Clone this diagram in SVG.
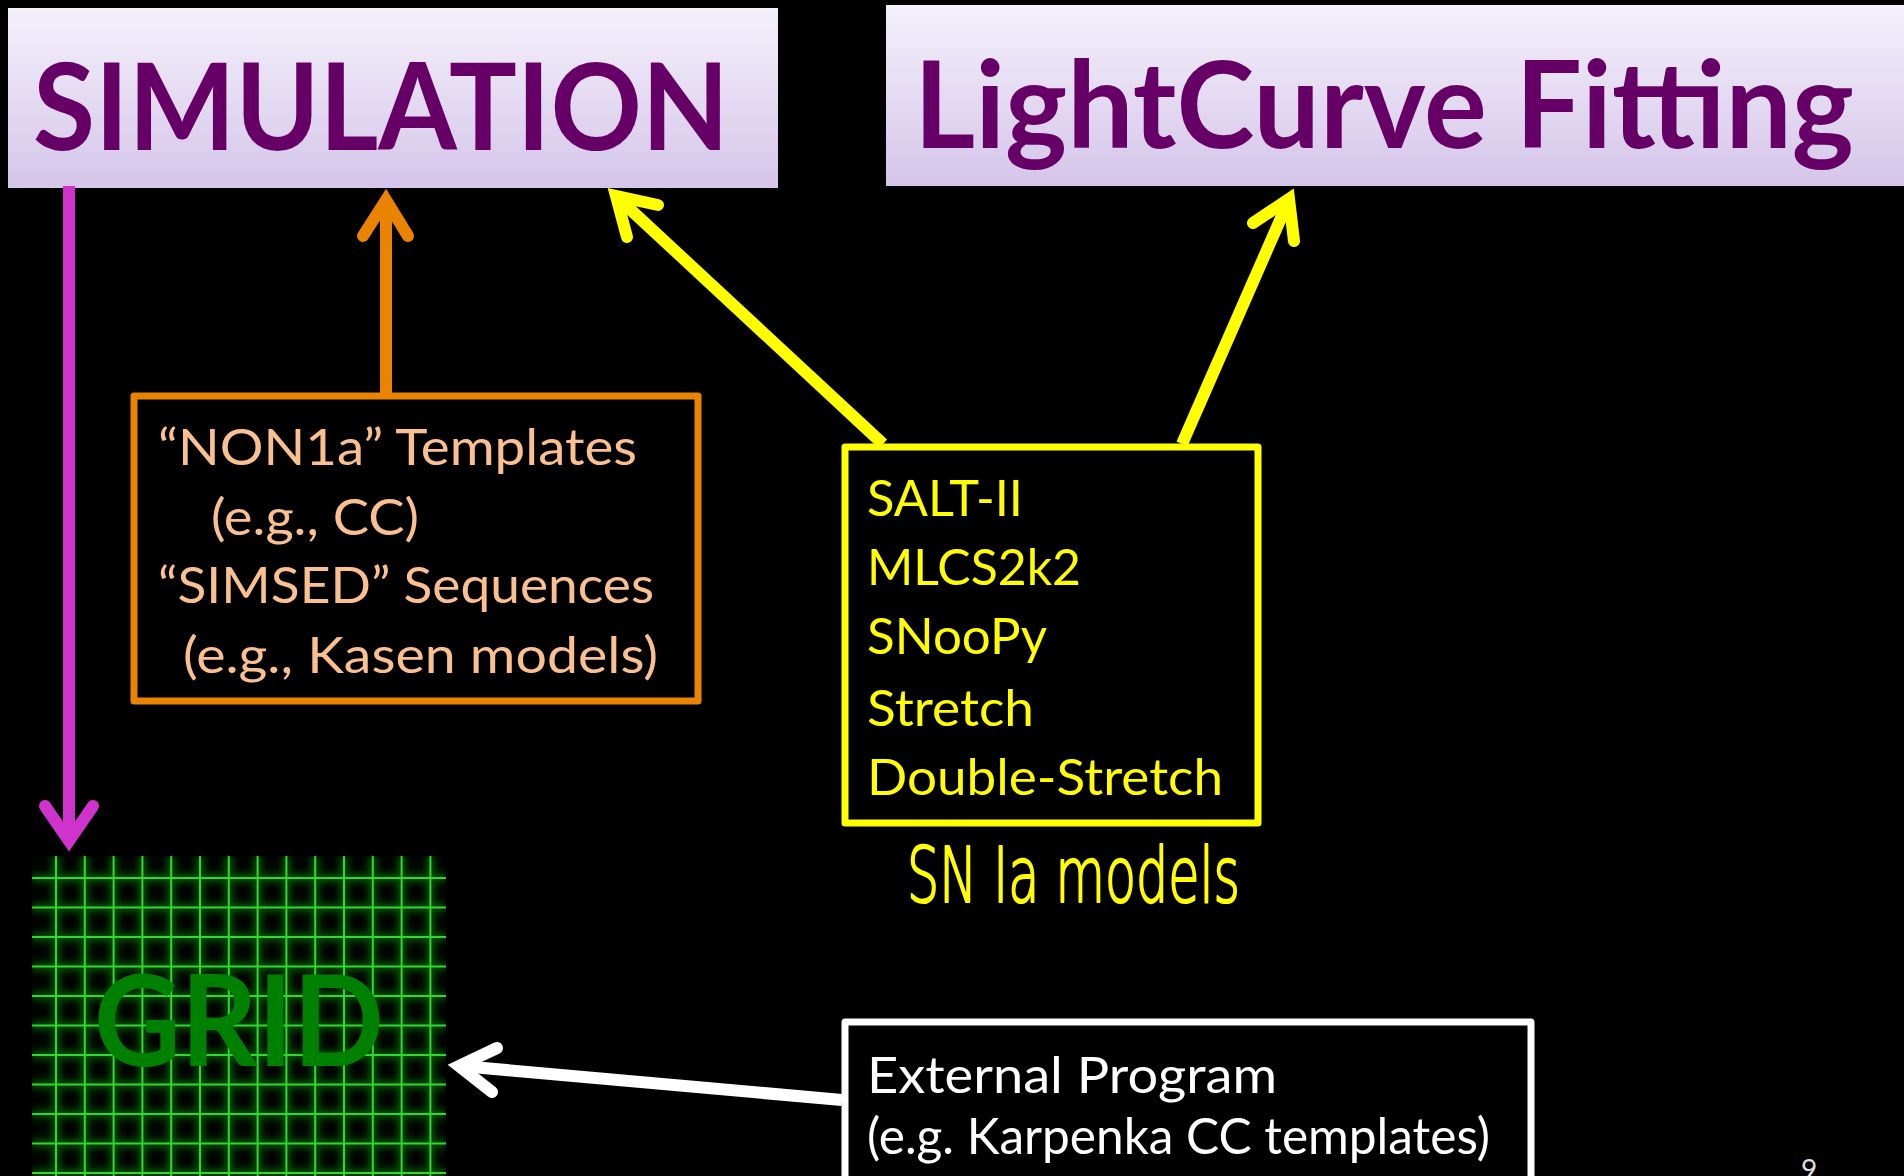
<svg xmlns="http://www.w3.org/2000/svg" width="1904" height="1176" viewBox="0 0 1904 1176">
  <defs>
    <linearGradient id="titleFill" x1="0" y1="0" x2="0" y2="1">
      <stop offset="0" stop-color="#F4F1FB"/>
      <stop offset="1" stop-color="#D5C5EA"/>
    </linearGradient>
    <filter id="glow" x="-5%" y="-5%" width="110%" height="110%">
      <feGaussianBlur stdDeviation="3.5"/>
    </filter>
    <clipPath id="gridClip">
      <rect x="32" y="856" width="414" height="320"/>
    </clipPath>
  </defs>
  <style>
    .title { fill: url(#titleFill); }
    .titleText { font-family: Lato, "Open Sans", "Liberation Sans", sans-serif; font-weight: bold; font-size: 120px; fill: #660066; }
    .body { font-family: Lato, "Open Sans", "Liberation Sans", sans-serif; font-size: 50px; }
    .conn { fill: none; stroke-width: 12; }
    .head { fill: none; stroke-width: 12; stroke-linecap: round; stroke-linejoin: miter; stroke-miterlimit: 10; }
    .box { fill: #000; stroke-width: 7; stroke-linejoin: round; }
  </style>

  <rect width="1904" height="1176" fill="#000"/>

  <g id="simulation">
    <rect class="title" x="8" y="8" width="770" height="180"/>
    <text class="titleText" x="33" y="150" textLength="696" lengthAdjust="spacingAndGlyphs">SIMULATION</text>
  </g>

  <g id="lightcurve-fitting">
    <rect class="title" x="886" y="5" width="1018" height="181"/>
    <text class="titleText" x="914" y="148" textLength="940" lengthAdjust="spacingAndGlyphs">LightCurve Fitting</text>
  </g>

  <g id="non1a-templates">
    <rect class="box" x="134" y="396" width="564" height="305" stroke="#E98300"/>
    <g class="body" fill="#FAC090">
      <text x="158" y="465" textLength="479" lengthAdjust="spacingAndGlyphs">“NON1a” Templates</text>
      <text x="211" y="535" textLength="208" lengthAdjust="spacingAndGlyphs">(e.g., CC)</text>
      <text x="158" y="603" textLength="496" lengthAdjust="spacingAndGlyphs">“SIMSED” Sequences</text>
      <text x="183" y="673" textLength="475" lengthAdjust="spacingAndGlyphs">(e.g., Kasen models)</text>
    </g>
  </g>

  <g id="sn-ia-models">
    <rect class="box" x="845" y="447" width="413" height="376" stroke="#FFFF00"/>
    <g class="body" fill="#FFFF00">
      <text x="867" y="516" textLength="156" lengthAdjust="spacingAndGlyphs">SALT-II</text>
      <text x="867" y="585" textLength="214" lengthAdjust="spacingAndGlyphs">MLCS2k2</text>
      <text x="867" y="654" textLength="180" lengthAdjust="spacingAndGlyphs">SNooPy</text>
      <text x="867" y="726" textLength="167" lengthAdjust="spacingAndGlyphs">Stretch</text>
      <text x="867" y="795" textLength="356" lengthAdjust="spacingAndGlyphs">Double-Stretch</text>
    </g>
    <text x="907" y="902" font-family="'DejaVu Sans', sans-serif" font-weight="200" font-size="76" fill="#FFFF00" stroke="#FFFF00" stroke-width="2.2" stroke-linejoin="round" textLength="333" lengthAdjust="spacingAndGlyphs">SN Ia models</text>
  </g>

  <g id="grid">
    <rect x="32" y="856" width="414" height="320" fill="#000400"/>
    <g clip-path="url(#gridClip)">
      <g stroke="#0C800C" stroke-width="9" filter="url(#glow)" opacity="0.6">
        <path id="gridLines" d="M56 856V1176M84.8 856V1176M113.6 856V1176M142.4 856V1176M171.2 856V1176M200 856V1176M228.8 856V1176M257.6 856V1176M286.4 856V1176M315.2 856V1176M344 856V1176M372.8 856V1176M401.6 856V1176M430.4 856V1176M32 878H446M32 907.5H446M32 937H446M32 966.5H446M32 996H446M32 1025.5H446M32 1055H446M32 1084.5H446M32 1114H446M32 1143.5H446M32 1173H446"/>
      </g>
      <use href="#gridLines" stroke="#2FD82F" stroke-width="2"/>
    </g>
    <text x="94" y="1066" font-family="Lato, 'Open Sans', 'Liberation Sans', sans-serif" font-weight="bold" font-size="126" fill="#008000" textLength="290" lengthAdjust="spacingAndGlyphs">GRID</text>
  </g>

  <g id="external-program">
    <rect class="box" x="845" y="1022" width="686" height="170" stroke="#FFFFFF"/>
    <g class="body" fill="#FFFFFF">
      <text x="867" y="1093" textLength="410" lengthAdjust="spacingAndGlyphs">External Program</text>
      <text x="867" y="1154" textLength="623" lengthAdjust="spacingAndGlyphs">(e.g. Karpenka CC templates)</text>
    </g>
  </g>

  <text id="page-number" x="1801" y="1180" font-family="Lato, 'Liberation Sans', sans-serif" font-size="28" fill="#DDDDDD">9</text>

  <g id="connectors">
    <!-- SIMULATION down to GRID -->
    <g stroke="#D033CC">
      <line class="conn" x1="69" y1="186" x2="69" y2="842"/>
      <polyline class="head" points="45,806 69,841 93,806"/>
    </g>
    <!-- templates up to SIMULATION -->
    <g stroke="#E98300">
      <line class="conn" x1="386" y1="395" x2="386" y2="202"/>
      <polyline class="head" points="363,236 386,200 408,236"/>
    </g>
    <!-- SN Ia models up to SIMULATION -->
    <g stroke="#FFFF00">
      <line class="conn" x1="883" y1="444" x2="618" y2="198"/>
      <polyline class="head" points="658,205 616,196 627,237"/>
    </g>
    <!-- SN Ia models up to LightCurve Fitting -->
    <g stroke="#FFFF00">
      <line class="conn" x1="1182" y1="444" x2="1288" y2="202"/>
      <polyline class="head" points="1253,223 1289,199 1294,241"/>
    </g>
    <!-- External program into GRID -->
    <g stroke="#FFFFFF">
      <line class="conn" x1="842" y1="1100" x2="461" y2="1066"/>
      <polyline class="head" points="497,1048 459,1066 492,1092"/>
    </g>
  </g>
</svg>
